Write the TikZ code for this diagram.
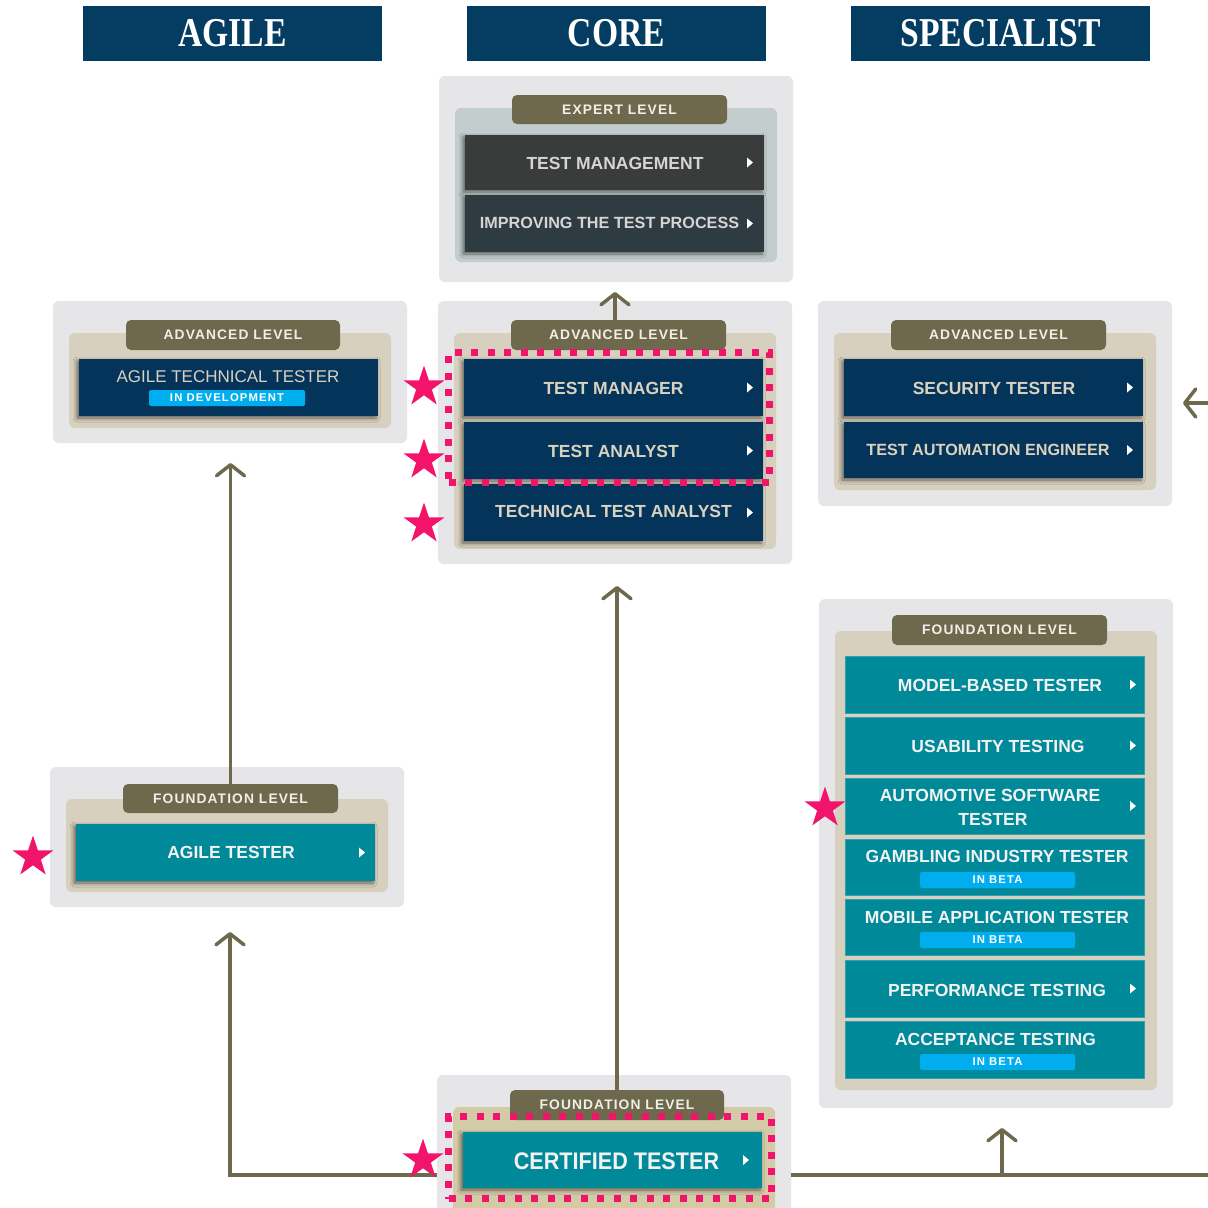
\documentclass[tikz,border=0pt]{standalone}
\usepackage{fontspec}
\setmainfont{Liberation Sans}
\newfontfamily\hdfont{Liberation Serif}[FakeStretch=0.82]
\newfontfamily\tabfont{Liberation Sans}[LetterSpace=8]
\newfontfamily\bdgfont{Liberation Sans}[LetterSpace=10]
\newfontfamily\bigfont{Liberation Sans}[FakeStretch=0.9]
\usetikzlibrary{shapes.geometric,arrows.meta,shadows.blur}
\definecolor{hdnavy}{HTML}{053C62}
\definecolor{pgray}{HTML}{E6E6E8}
\definecolor{beigep}{HTML}{D7D0BE}
\definecolor{beigec}{HTML}{D3CAA8}
\definecolor{expin}{HTML}{C3CDCD}
\definecolor{tabol}{HTML}{6E694D}
\definecolor{boxnavy}{HTML}{04345A}
\definecolor{tealc}{HTML}{008A99}
\definecolor{darkc}{HTML}{3A3B3B}
\definecolor{slatec}{HTML}{2E3B40}
\definecolor{badgec}{HTML}{00AEEF}
\definecolor{pinkc}{HTML}{F2136B}
\definecolor{txtbeige}{HTML}{D9D2BE}
\definecolor{txtgray}{HTML}{D5D5D5}
\definecolor{txtwhite}{HTML}{F2F2F2}
\definecolor{tabtxt}{HTML}{F0EEE6}
\newcommand\mkrect[6]{\node[#1, minimum width=#4pt, minimum height=#5pt, anchor=north west] (#2) at (#3) {#6};}
\tikzset{
  base/.style={inner sep=0pt, outer sep=0pt},
  hdbox/.style={base, fill=hdnavy, text=white, font=\hdfont\bfseries\fontsize{41}{41}\selectfont},
  outerp/.style={base, fill=pgray, rounded corners=6pt},
  innerb/.style={base, fill=beigep, rounded corners=6pt},
  innerc/.style={base, fill=beigec, rounded corners=6pt},
  innerx/.style={base, fill=expin, rounded corners=6pt},
  tabp/.style={base, fill=tabol, rounded corners=5pt, text=tabtxt, font=\tabfont\bfseries\fontsize{13.8}{14}\selectfont},
  shad/.style={blur shadow={shadow xshift=-2pt, shadow yshift=-2pt, shadow blur radius=4pt, shadow opacity=55}},
  darkbox/.style={base, fill=darkc, shad},
  slatebox/.style={base, fill=slatec, shad},
  navybox/.style={base, fill=boxnavy, shad},
  tealbox/.style={base, fill=tealc, shad},
  tealflat/.style={base, fill=tealc, draw=tealc!80!white, line width=0.8pt},
  badge/.style={base, fill=badgec, rounded corners=2pt, text=white, font=\bdgfont\bfseries\fontsize{11.3}{11}\selectfont},
  gtxt/.style={base, text=txtgray, font=\bfseries\fontsize{17.5}{18}\selectfont},
  btxt/.style={base, text=txtbeige, font=\bfseries\fontsize{17.5}{18}\selectfont},
  wtxt/.style={base, text=txtwhite, font=\bfseries\fontsize{17.5}{18}\selectfont},
  pinkdot/.style={base, draw=pinkc, line width=7pt, dash pattern=on 7pt off 9.5pt},
  pstar/.style={base, star, star points=5, star point ratio=2.6, minimum size=43pt, fill=pinkc},
  conn/.style={draw=tabol, line width=3.5pt, -{Straight Barb[length=11pt,width=28pt,round]}},
  plain/.style={draw=tabol, line width=3.5pt},
  tri/.pic={\fill[white] (-3,-5) -- (3,0) -- (-3,5) -- cycle;}
}
\begin{document}
\begin{tikzpicture}[x=1pt,y=-1pt]
\useasboundingbox (0,0) rectangle (1208,1208);
\fill[white] (0,0) rectangle (1208,1208);

% headers
\mkrect{hdbox}{hA}{83,6}{299}{55}{AGILE}
\mkrect{hdbox}{hC}{467,6}{299}{55}{CORE}
\mkrect{hdbox}{hS}{851,6}{299}{55}{SPECIALIST}

% expert level
\mkrect{outerp}{exO}{439,76}{354}{206}{}
\mkrect{innerx}{exI}{455,108}{322}{154}{}
\mkrect{tabp}{exT}{512,95}{215}{29}{EXPERT LEVEL}
\mkrect{darkbox}{exM}{465,135}{299}{55}{}
\mkrect{slatebox}{exP}{465,195}{299}{57}{}
\node[gtxt] (exMt) at (615,163) {TEST MANAGEMENT};
\node[gtxt, font=\bfseries\fontsize{16.2}{17}\selectfont] (exPt) at (609.5,223) {IMPROVING THE TEST PROCESS};
\pic at ([xshift=-14pt]exM.east) {tri};
\pic at ([xshift=-14pt]exP.east) {tri};

% core advanced
\mkrect{outerp}{caO}{438,301}{354}{263}{}
\mkrect{innerb}{caI}{454,333}{322}{216}{}
\mkrect{tabp}{caT}{511,320}{215}{30}{ADVANCED LEVEL}
\mkrect{navybox}{tmgr}{464,359}{299}{57}{}
\mkrect{navybox}{tan}{464,422}{299}{57}{}
\mkrect{navybox}{tta}{464,484}{299}{57}{}
\node[btxt] (tmgrt) at (613.5,388) {TEST MANAGER};
\node[btxt] (tant) at (613.5,451) {TEST ANALYST};
\node[btxt] (ttat) at (613.5,511) {TECHNICAL TEST ANALYST};
\pic at ([xshift=-13pt]tmgr.east) {tri};
\pic at ([xshift=-13pt]tan.east) {tri};
\pic at ([xshift=-13pt]tta.east) {tri};

% agile advanced
\mkrect{outerp}{aaO}{53,301}{354}{142}{}
\mkrect{innerb}{aaI}{69,333}{322}{95}{}
\mkrect{tabp}{aaT}{126,320}{214}{30}{ADVANCED LEVEL}
\mkrect{navybox}{att}{79,359}{299}{57}{}
\node[base, text=txtbeige, font=\fontsize{17}{18}\selectfont] (attt) at (228,377) {AGILE TECHNICAL TESTER};
\mkrect{badge}{attB}{149,390}{156}{16}{IN DEVELOPMENT}

% specialist advanced
\mkrect{outerp}{saO}{818,301}{354}{205}{}
\mkrect{innerb}{saI}{834,333}{322}{157}{}
\mkrect{tabp}{saT}{891,320}{215}{30}{ADVANCED LEVEL}
\mkrect{navybox}{sec}{844,359}{299}{57}{}
\mkrect{navybox}{tae}{844,422}{299}{56}{}
\node[btxt] (sect) at (994,388) {SECURITY TESTER};
\node[btxt, font=\bfseries\fontsize{16.2}{17}\selectfont] (taet) at (988,450) {TEST AUTOMATION ENGINEER};
\pic at ([xshift=-13pt]sec.east) {tri};
\pic at ([xshift=-13pt]tae.east) {tri};

% specialist foundation
\mkrect{outerp}{sfO}{819,599}{354}{509}{}
\mkrect{innerb}{sfI}{835,631}{322}{459}{}
\mkrect{tabp}{sfT}{892,615}{215}{30}{FOUNDATION LEVEL}
\mkrect{tealflat}{mbt}{845,656}{299}{57}{}
\mkrect{tealflat}{ust}{845,717}{299}{57}{}
\mkrect{tealflat}{aut}{845,778}{299}{56}{}
\mkrect{tealflat}{gam}{845,839}{299}{56}{}
\mkrect{tealflat}{mob}{845,899}{299}{56}{}
\mkrect{tealflat}{prf}{845,960}{299}{57}{}
\mkrect{tealflat}{acc}{845,1021}{299}{57}{}
\node[wtxt] (mbtt) at (1000,685) {MODEL-BASED TESTER};
\node[wtxt] (ustt) at (998,746) {USABILITY TESTING};
\node[wtxt] (autt1) at (990,795) {AUTOMOTIVE SOFTWARE};
\node[wtxt] (autt2) at (993,819) {TESTER};
\node[wtxt] (gamt) at (997,856) {GAMBLING INDUSTRY TESTER};
\node[wtxt] (mobt) at (997,917) {MOBILE APPLICATION TESTER};
\node[wtxt] (prft) at (997,990) {PERFORMANCE TESTING};
\node[wtxt] (acct) at (995.5,1039) {ACCEPTANCE TESTING};
\mkrect{badge}{gamB}{920,872}{155}{16}{IN BETA}
\mkrect{badge}{mobB}{920,932}{155}{16}{IN BETA}
\mkrect{badge}{accB}{920,1054}{155}{16}{IN BETA}
\pic at ([xshift=-11pt]mbt.east) {tri};
\pic at ([xshift=-11pt]ust.east) {tri};
\pic at ([xshift=-11pt]aut.east) {tri};
\pic at ([xshift=-11pt]prf.east) {tri};

% agile foundation
\mkrect{outerp}{afO}{50,767}{354}{140}{}
\mkrect{innerb}{afI}{66,799}{322}{93}{}
\mkrect{tabp}{afT}{123,784}{215}{29}{FOUNDATION LEVEL}
\mkrect{tealbox}{agt}{76,824}{299}{57}{}
\node[wtxt] (agtt) at (231,852) {AGILE TESTER};
\pic at ([xshift=-13pt]agt.east) {tri};

% certified tester
\mkrect{outerp}{ctO}{437,1075}{354}{150}{}
\mkrect{innerc}{ctI}{453,1107}{322}{110}{}
\mkrect{tabp}{ctT}{510,1090}{214}{30}{FOUNDATION LEVEL}
\mkrect{tealbox}{cert}{463,1132}{299}{56}{}
\node[base, text=txtwhite, font=\bigfont\bfseries\fontsize{24}{25}\selectfont] (certt) at (616.5,1161) {CERTIFIED TESTER};
\pic at ([xshift=-16pt]cert.east) {tri};

% connectors
\coordinate (aaTip) at ([yshift=-20pt]aaO.south);
\coordinate (caTip) at ([yshift=-22pt]caO.south);
\coordinate (exTip) at ([yshift=-10pt]exO.south);
\coordinate (afTip) at ([yshift=-25pt]afO.south);
\coordinate (sfTip) at ([yshift=-20pt]sfO.south);
\coordinate (reTip) at ([xshift=11pt]saO.east);
\coordinate (hl) at (230,1175);
\coordinate (hr) at (1208,1175);
\coordinate (hs) at (1002,1175);
\coordinate (re) at (1208,403);
\coordinate (exFrom) at (615,320);
\draw[conn] (afT.north) -- (afT.north |- aaTip);
\draw[conn] (ctT.north) -- (ctT.north |- caTip);
\draw[conn] (exFrom) -- (exFrom |- exTip);
\draw[conn] (ctO.west |- hl) -- (hl) -- (hl |- afTip);
\draw[plain] (ctO.east |- hr) -- (hr);
\draw[conn] (hs) -- (hs |- sfTip);
\draw[conn] (re) -- (re -| reTip);

% highlights
\node[pinkdot, minimum width=321pt, minimum height=130pt, anchor=north west] (sel1) at (448.5,352.5) {};
\node[pinkdot, minimum width=323pt, minimum height=82pt, anchor=north west] (sel2) at (448.5,1116.5) {};
\node[pstar] (s1) at (424,387) {};
\node[pstar] (s2) at (424,460) {};
\node[pstar] (s3) at (424,524) {};
\node[pstar] (s4) at (33,857) {};
\node[pstar] (s5) at (825,808) {};
\node[pstar] (s6) at (423,1160) {};
\end{tikzpicture}
\end{document}
